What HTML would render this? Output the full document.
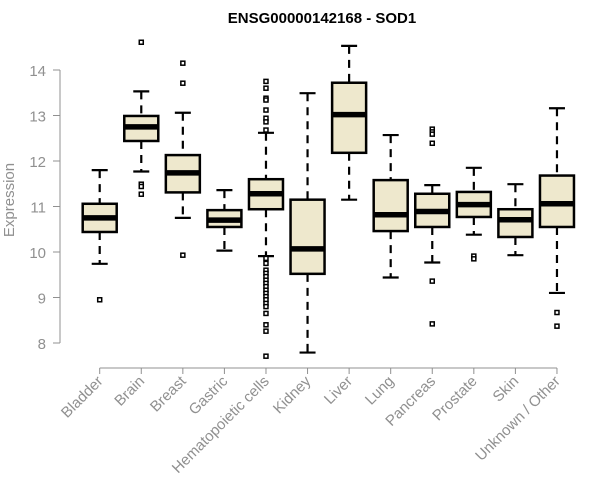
<!DOCTYPE html>
<html><head><meta charset="utf-8"><style>body{margin:0;background:#fff}svg{display:block}</style></head>
<body>
<svg id="chart" width="600" height="500" xmlns="http://www.w3.org/2000/svg" font-family="'Liberation Sans', Arial, sans-serif">
<text x="322" y="23" text-anchor="middle" font-weight="bold" font-size="15">ENSG00000142168 - SOD1</text>
<text transform="translate(14,200) rotate(-90)" text-anchor="middle" font-size="15" fill="#909090">Expression</text>
<g id="plot"></g>
</svg>
<script>
const categories=["Bladder","Brain","Breast","Gastric","Hematopoietic cells","Kidney","Liver","Lung","Pancreas","Prostate","Skin","Unknown / Other"];
const whiskerLow=[9.74,11.77,10.75,10.03,9.91,7.79,11.15,9.44,9.77,10.38,9.93,9.10];
const q1=[10.44,12.44,11.31,10.55,10.94,9.52,12.18,10.46,10.55,10.77,10.33,10.55];
const medians=[10.75,12.75,11.74,10.70,11.28,10.07,13.02,10.82,10.89,11.04,10.71,11.06];
const q3=[11.06,12.99,12.13,10.92,11.60,11.15,13.72,11.58,11.28,11.32,10.94,11.68];
const whiskerHigh=[11.80,13.53,13.06,11.36,12.62,13.49,14.53,12.57,11.47,11.85,11.49,13.16];
const outliers=[[8.95],[14.61,11.49,11.44,11.27],[14.15,13.71,9.93],[],
[13.75,13.60,13.38,13.34,13.12,12.94,12.86,12.68,9.86,9.75,9.60,9.53,9.46,9.38,9.31,9.24,9.16,9.09,9.02,8.95,8.87,8.80,8.65,8.40,8.26,7.71],
[],[],[],[12.70,12.64,12.59,12.39,9.36,8.42],[9.91,9.85],[],[8.67,8.37]];
const yTicks=[8,9,10,11,12,13,14];

const NS="http://www.w3.org/2000/svg";
const g=document.getElementById('plot');
const y=v=>343-(v-8)*45.5;
const x=i=>99.7+i*41.57;
function mk(t,a,p){const e=document.createElementNS(NS,t);for(const k in a)e.setAttribute(k,a[k]);(p||g).appendChild(e);return e;}

let ax=mk('line',{x1:60,x2:60,y1:y(14),y2:y(8),stroke:'#909090','stroke-width':1});


yTicks.forEach(v=>{
  let t=mk('line',{x1:53,x2:60,y1:y(v),y2:y(v),stroke:'#909090'});
  
  
  let l=mk('text',{x:46,y:y(v)+6,'text-anchor':'end','font-size':15,fill:'#909090'});
  l.textContent=v;
  
  
});
let xa=mk('line',{x1:x(0),x2:x(11),y1:368,y2:368,stroke:'#909090'});


categories.forEach((c,i)=>{
  const cx=x(i);
  let t=mk('line',{x1:cx,x2:cx,y1:368,y2:374,stroke:'#909090'});
  
  
  let l=mk('text',{x:cx+4,y:382,'text-anchor':'end','font-size':15,fill:'#909090',transform:`rotate(-45 ${cx+4} 382)`});
  l.textContent=c;
  
  
  const grp=mk('g',{});
  
  
  const hw=17,cap=8;
  mk('line',{x1:cx,x2:cx,y1:y(whiskerHigh[i]),y2:y(q3[i]),stroke:'#000','stroke-width':2.2,'stroke-dasharray':'8,6'},grp);
  mk('line',{x1:cx,x2:cx,y1:y(q1[i]),y2:y(whiskerLow[i]),stroke:'#000','stroke-width':2.2,'stroke-dasharray':'8,6'},grp);
  mk('line',{x1:cx-cap,x2:cx+cap,y1:y(whiskerHigh[i]),y2:y(whiskerHigh[i]),stroke:'#000','stroke-width':2.2},grp);
  mk('line',{x1:cx-cap,x2:cx+cap,y1:y(whiskerLow[i]),y2:y(whiskerLow[i]),stroke:'#000','stroke-width':2.2},grp);
  mk('rect',{x:cx-hw,y:y(q3[i]),width:2*hw,height:y(q1[i])-y(q3[i]),fill:'#EEE8CD',stroke:'#000','stroke-width':2.5},grp);
  mk('line',{x1:cx-hw,x2:cx+hw,y1:y(medians[i]),y2:y(medians[i]),stroke:'#000','stroke-width':5.5},grp);
  outliers[i].forEach(v=>{
    let o=mk('rect',{x:cx-2,y:y(v)-2,width:4,height:4,fill:'#fff',stroke:'#000','stroke-width':1.5},grp);
    
    
  });
});
</script>
</body></html>
